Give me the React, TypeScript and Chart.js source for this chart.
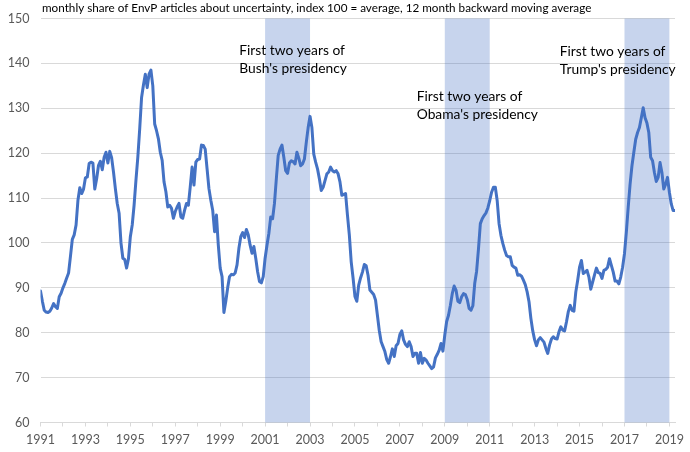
import React, { useEffect, useRef } from "react";
import { Chart, registerables } from "chart.js";

Chart.register(...registerables);

const TITLE =
  "monthly share of EnvP articles about uncertainty, index 100 = average, 12 month backward moving average";

const FIRST_YEAR = 1991;
const X_MIN = 1991;
const X_MAX = 2019.25;
const Y_MIN = 60;
const Y_MAX = 150;
const Y_STEP = 10;

const tickYears = [
  1991, 1992, 1993, 1994, 1995, 1996, 1997, 1998, 1999, 2000, 2001, 2002, 2003, 2004, 2005,
  2006, 2007, 2008, 2009, 2010, 2011, 2012, 2013, 2014, 2015, 2016, 2017, 2018, 2019,
];
const labeledYears = [
  1991, 1993, 1995, 1997, 1999, 2001, 2003, 2005, 2007, 2009, 2011, 2013, 2015, 2017, 2019,
];

// Shaded periods: first two years of each presidency
const bandStart = [2001, 2009, 2017];
const bandEnd = [2003, 2011, 2019];

const noteLines = [
  ["First two years of", "Bush's presidency"],
  ["First two years of", "Obama's presidency"],
  ["First two years of", "Trump's presidency"],
];
const noteX = [1999.85, 2007.75, 2014.12];
const noteY = [142.9, 132.7, 142.6];

// Monthly values, Jan 1991 onward (12 per row)
const values1990s = [
  89.3, 87, 85, 84.6, 84.5, 84.8, 85.5, 86.5, 85.8, 85.4, 88, 88.8,
  90, 91, 92.2, 93.3, 97, 100.8, 101.8, 104, 109.5, 112.3, 111, 112,
  114.5, 114.7, 117.7, 118, 117.8, 112, 114.3, 117.3, 118.2, 116.3, 119.1, 120.2,
  117.8, 120.4, 119, 115.8, 112.1, 108.8, 106.6, 100, 96.6, 96.3, 94.4, 96.5,
  101.4, 104, 108.4, 114, 119.1, 125.4, 132.4, 135.2, 137.6, 134.6, 137.6, 138.5,
  135, 126.5, 125, 123.2, 120.2, 118.4, 113.6, 111.4, 108, 108.4, 107.7, 105.5,
  107, 108, 108.8, 105.8, 105.5, 107.3, 108.8, 108.4, 112.5, 116.9, 112.9, 118,
  118.6, 118.7, 121.8, 121.7, 120.9, 116.5, 112.1, 109.5, 107.3, 102.5, 106.2, 99.5,
  94.4, 92.5, 84.5, 87, 90, 92.5, 93, 92.9, 93.3, 95.1, 98.8, 101.4,
];
const values2000s = [
  102.3, 101.2, 103, 101.8, 99.5, 97.7, 99.2, 96.6, 93.6, 91.4, 91.1, 92.5,
  96.6, 99.5, 102.1, 105.8, 105.4, 108.8, 114.3, 119.5, 120.9, 121.8, 119.1, 116.1,
  115.5, 117.8, 118.3, 118.1, 117.6, 120.2, 118.9, 117.2, 117.6, 118.7, 122.4, 125.7,
  128.2, 125.7, 119.8, 118, 116.5, 114.3, 111.7, 112.4, 113.9, 115.4, 115.8, 116.9,
  116.1, 115.8, 116.1, 115.4, 113.6, 110.6, 110.8, 111, 106.2, 101.8, 95.8, 92.2,
  88.1, 87, 90.6, 92.2, 93.5, 95.2, 94.9, 92.8, 89.5, 89, 88.5, 87.3,
  83.9, 80.5, 78, 76.9, 75.8, 74, 73.2, 74.7, 76.4, 74.7, 77.1, 77.6,
  79.6, 80.4, 78.4, 77.4, 76.9, 78, 76.9, 74.7, 75.4, 75.4, 73.2, 75.6,
  73.2, 74.3, 73.9, 73.2, 72.6, 72, 72.4, 74.4, 75.2, 76.1, 77.6, 75.9,
  79.5, 82.5, 83.9, 86.1, 88.7, 90.4, 89.5, 87, 86.7, 88, 88.7, 88.5,
];
const values2010s = [
  87.4, 85.4, 85, 86, 91, 93.7, 98.7, 104.3, 105.4, 106.1, 106.7, 107.8,
  109.4, 111.3, 112.4, 112.4, 109.4, 104.3, 101.7, 99.9, 98.4, 97.2, 96.9, 96.9,
  95, 94.6, 94.4, 92.8, 92.9, 92.6, 91.7, 90.7, 89.1, 86.9, 83.2, 80.4,
  78.4, 77.1, 78.4, 78.9, 78.4, 77.9, 76.5, 75.4, 77.3, 78.6, 79.1, 78.7,
  78.6, 80.2, 81.3, 80.6, 80.4, 82.4, 84.7, 86.1, 85, 84.8, 89.1, 91.7,
  94.6, 96.1, 93.2, 93.5, 93.9, 92.4, 89.7, 91.3, 92.9, 94.4, 93.4, 93.2,
  92.1, 93.9, 94.1, 94.6, 96.5, 95, 93.5, 91.5, 91.5, 90.9, 92.4, 94.6,
  97.6, 102.4, 108, 113.1, 117.2, 120.2, 123.1, 124.6, 125.7, 127.9, 130.1, 127.9,
  126.7, 124.6, 119.1, 118.3, 115.7, 113.7, 114.6, 117.9, 115.7, 112, 113.1, 114.6,
  111.3, 108.7, 107.2, 107.2,
];

const LINE_COLOR = "#4472C4";
const BAND_COLOR = "rgba(68, 114, 196, 0.3)";
const GRID_COLOR = "#d9d9d9";
const TICK_COLOR = "#595959";
const FONT = "Lato";

const decorPlugin = {
  id: "decor",
  beforeDatasetsDraw(chart: any) {
    const { ctx, chartArea, scales } = chart;
    const xs = scales.x;
    ctx.save();
    ctx.fillStyle = BAND_COLOR;
    for (let i = 0; i < bandStart.length; i++) {
      const x0 = xs.getPixelForValue(bandStart[i]);
      const x1 = xs.getPixelForValue(bandEnd[i]);
      ctx.fillRect(x0, chartArea.top, x1 - x0, chartArea.bottom - chartArea.top);
    }
    ctx.restore();
  },
  afterDraw(chart: any) {
    const { ctx, scales } = chart;
    ctx.save();
    ctx.fillStyle = "#000";
    ctx.textBaseline = "middle";
    ctx.textAlign = "left";
    ctx.font = `11.7px ${FONT}`;
    ctx.fillText(TITLE, 42, 8);
    ctx.font = `13.8px ${FONT}`;
    for (let i = 0; i < noteLines.length; i++) {
      const px = scales.x.getPixelForValue(noteX[i]);
      const py = scales.y.getPixelForValue(noteY[i]);
      noteLines[i].forEach((t, j) => ctx.fillText(t, px, py + j * 18));
    }
    ctx.restore();
  },
};

export default function App() {
  const ref = useRef<HTMLCanvasElement | null>(null);

  useEffect(() => {
    document.body.style.margin = "0";
    const all = [...values1990s, ...values2000s, ...values2010s];
    const points = all.map((v, i) => ({ x: FIRST_YEAR + i / 12, y: v }));
    const chart = new Chart(ref.current as HTMLCanvasElement, {
      type: "line",
      data: {
        datasets: [
          {
            data: points,
            borderColor: LINE_COLOR,
            borderWidth: 3,
            pointRadius: 0,
            tension: 0,
            borderJoinStyle: "round",
            borderCapStyle: "round",
          },
        ],
      },
      options: {
        animation: false,
        responsive: false,
        parsing: false,
        layout: { padding: { top: 15.5, right: 12, left: 0, bottom: 0 } },
        plugins: { legend: { display: false }, tooltip: { enabled: false } },
        scales: {
          x: {
            type: "linear",
            min: X_MIN,
            max: X_MAX,
            afterBuildTicks: (s: any) => {
              s.ticks = tickYears.map((v) => ({ value: v }));
            },
            afterFit: (s: any) => {
              s.height = 29.5;
            },
            grid: {
              display: true,
              drawOnChartArea: false,
              drawTicks: true,
              tickLength: 4,
              color: GRID_COLOR,
            },
            border: { display: true, color: GRID_COLOR, width: 1 },
            ticks: {
              autoSkip: false,
              maxRotation: 0,
              padding: 6,
              color: TICK_COLOR,
              font: { family: FONT, size: 12.5 },
              callback: (v: any) => (labeledYears.includes(Number(v)) ? String(v) : ""),
            },
          },
          y: {
            min: Y_MIN,
            max: Y_MAX,
            afterFit: (s: any) => {
              s.width = 40.5;
            },
            grid: { color: GRID_COLOR, drawTicks: false, lineWidth: 1 },
            border: { display: false },
            ticks: {
              stepSize: Y_STEP,
              padding: 11,
              color: TICK_COLOR,
              font: { family: FONT, size: 12.5 },
            },
          },
        },
      },
      plugins: [decorPlugin],
    } as any);
    return () => chart.destroy();
  }, []);

  return (
    <div style={{ width: 690, height: 452 }}>
      <canvas ref={ref} width={690} height={452} style={{ display: "block" }} />
    </div>
  );
}
